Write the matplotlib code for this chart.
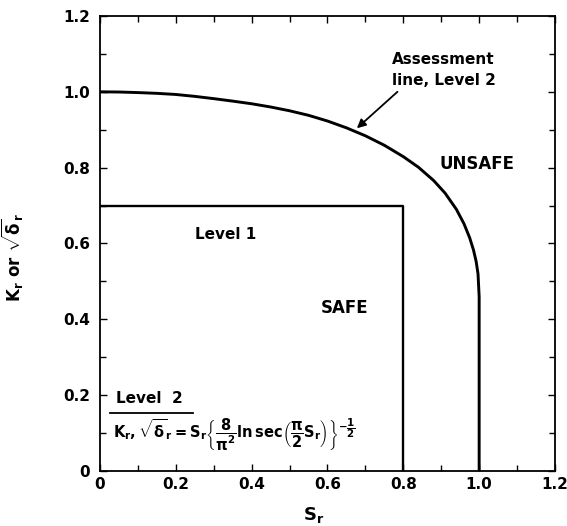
import matplotlib
matplotlib.use("Agg")
import matplotlib.pyplot as plt
from matplotlib.ticker import MultipleLocator, FixedLocator

plt.rcParams['font.family'] = ['DejaVu Sans']
plt.rcParams['font.weight'] = 'bold'
plt.rcParams['axes.labelweight'] = 'bold'
plt.rcParams['mathtext.fontset'] = 'custom'
plt.rcParams['mathtext.rm'] = 'DejaVu Sans:bold'
plt.rcParams['mathtext.it'] = 'DejaVu Sans:bold'
plt.rcParams['mathtext.bf'] = 'DejaVu Sans:bold'

# Level 2 assessment line
sr_level2 = [0.0, 0.05, 0.1, 0.15, 0.2, 0.25, 0.3, 0.35, 0.4, 0.45, 0.5, 0.55, 0.6,
             0.65, 0.7, 0.75, 0.8, 0.84, 0.88, 0.91, 0.94, 0.96, 0.975, 0.985,
             0.992, 0.997, 1.0, 1.0]
kr_level2 = [1.0, 0.9995, 0.998, 0.996, 0.993, 0.988, 0.982, 0.9755, 0.9685, 0.960,
             0.950, 0.938, 0.923, 0.905, 0.884, 0.859, 0.829, 0.801, 0.766, 0.733,
             0.690, 0.652, 0.615, 0.583, 0.553, 0.52, 0.46, 0.0]

# Level 1 box
sr_level1 = [0.0, 0.8, 0.8]
kr_level1 = [0.7, 0.7, 0.0]

tick_vals = [0, 0.2, 0.4, 0.6, 0.8, 1.0, 1.2]
tick_labels = ["0", "0.2", "0.4", "0.6", "0.8", "1.0", "1.2"]

fig = plt.figure(figsize=(5.67, 5.26), dpi=100)
ax = fig.add_axes([0.1764, 0.1046, 0.8024, 0.865])

ax.plot(sr_level2, kr_level2, color='black', lw=2.1, solid_capstyle='butt',
        solid_joinstyle='round')
ax.plot(sr_level1, kr_level1, color='black', lw=1.7, solid_capstyle='butt')

ax.set_xlim(0, 1.2)
ax.set_ylim(0, 1.2)
ax.xaxis.set_major_locator(FixedLocator(tick_vals))
ax.yaxis.set_major_locator(FixedLocator(tick_vals))
ax.set_xticklabels(tick_labels)
ax.set_yticklabels(tick_labels)
ax.xaxis.set_minor_locator(MultipleLocator(0.1))
ax.yaxis.set_minor_locator(MultipleLocator(0.1))
ax.tick_params(which='both', direction='in', top=True, right=True, width=1.0,
               labelsize=11)
ax.tick_params(axis='y', pad=7)
ax.tick_params(axis='x', pad=4)
ax.tick_params(which='major', length=5)
ax.tick_params(which='minor', length=4)
for s in ax.spines.values():
    s.set_linewidth(1.3)

ax.set_xlabel(r'$\mathrm{S_r}$', fontsize=13)
ax.xaxis.set_label_coords(0.47, -0.075)
ax.set_ylabel(r'$\mathrm{K_r}$ or $\mathrm{\sqrt{\delta}_r}$', fontsize=12,
              fontweight='bold')
ax.yaxis.set_label_coords(-0.165, 0.47)

ax.text(0.77, 1.085, 'Assessment', fontsize=11, ha='left', va='center')
ax.text(0.77, 1.03, 'line, Level 2', fontsize=11, ha='left', va='center')
ax.annotate('', xy=(0.672, 0.899), xytext=(0.79, 1.005),
            arrowprops=dict(arrowstyle='-|>', color='black', lw=1.3, mutation_scale=13))
ax.text(0.995, 0.81, 'UNSAFE', fontsize=12, ha='center', va='center')
ax.text(0.646, 0.43, 'SAFE', fontsize=12, ha='center', va='center')
ax.text(0.33, 0.623, 'Level 1', fontsize=11, ha='center', va='center')

ax.text(0.13, 0.19, 'Level  2', fontsize=11, ha='center', va='center')
ax.plot([0.026, 0.245], [0.152, 0.152], color='black', lw=1.3)
ax.text(0.035, 0.095,
        r'$\mathrm{K_r, \sqrt{\delta}_r = S_r \left\{\dfrac{8}{\pi^2} ln\, sec\left(\dfrac{\pi}{2} S_r\right)\right\}^{-\dfrac{1}{2}}}$',
        fontsize=10.5, ha='left', va='center')

fig.savefig('out.png', dpi=100)
